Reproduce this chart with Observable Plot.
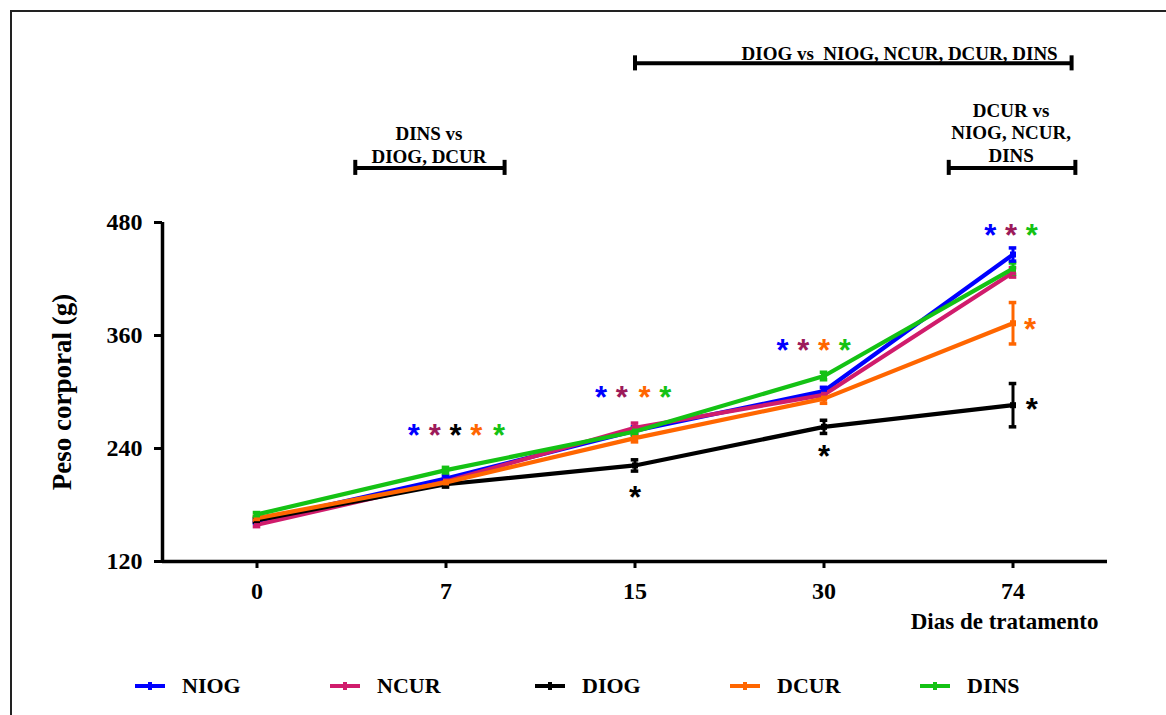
<!DOCTYPE html>
<html>
<head>
<meta charset="utf-8">
<script src="https://cdn.jsdelivr.net/npm/d3@7"></script>
<script src="https://cdn.jsdelivr.net/npm/@observablehq/plot@0.6"></script>
<style>
html, body { margin: 0; padding: 0; background: #fff; width: 1166px; height: 715px; overflow: hidden; }
#frame { position: absolute; left: 10px; top: 10px; width: 1200px; height: 800px; border-left: 2px solid #222; border-top: 2px solid #222; }
#chart { position: absolute; left: 0; top: 0; }
#legend { position: absolute; left: 0; top: 668px; width: 1166px; height: 36px;
  font-family: "Liberation Serif", "Times New Roman", serif; font-weight: bold; font-size: 22px; }
.item { position: absolute; top: 0; height: 36px; display: flex; align-items: center; white-space: nowrap; }
.swatch { position: relative; width: 30px; height: 4px; margin-right: 17px; }
.swatch span { position: absolute; left: 13px; top: -2px; width: 4px; height: 8px; }
</style>
</head>
<body>
<div id="frame"></div>
<div id="chart"></div>
<div id="legend"></div>
<script>
// ---- data ----
const days = ["0", "7", "15", "30", "74"];
const groups = ["NIOG", "NCUR", "DIOG", "DCUR", "DINS"];

const NIOG = [163, 208, 259, 301, 446];
const NCUR = [159, 205, 262, 297, 427];
const DIOG = [164, 202, 222, 263, 286];
const DCUR = [166, 204, 251, 293, 373];
const DINS = [170, 217, 258, 317, 431];

const NIOG_se = [2, 3, 4, 4, 7];
const NCUR_se = [2, 3, 5, 4, 5];
const DIOG_se = [2, 3, 6, 7, 23];
const DCUR_se = [2, 3, 4, 5, 22];
const DINS_se = [2, 3, 4, 4, 6];

const yTicks = [120, 240, 360, 480];

// significance asterisks (x in day-index units, y in g)
const starGroup = ["NIOG", "NCUR", "DIOG", "DCUR", "DINS",
                   "NIOG", "NCUR", "DCUR", "DINS",
                   "NIOG", "NCUR", "DCUR", "DINS",
                   "NIOG", "NCUR", "DINS",
                   "DIOG", "DIOG", "DIOG", "DCUR"];
const starX = [0.83, 0.94, 1.05, 1.16, 1.28,
               1.82, 1.93, 2.05, 2.16,
               2.78, 2.89, 3.00, 3.11,
               3.88, 3.99, 4.10,
               2.00, 3.00, 4.10, 4.09];
const starY = [262, 262, 262, 262, 262,
               302, 302, 302, 302,
               352, 352, 352, 352,
               474, 474, 474,
               196, 239, 289, 374];

// comparison brackets above the plot
const bracketX1 = [0.52, 2.00, 3.66];
const bracketX2 = [1.31, 4.31, 4.33];
const bracketY = [538, 649, 538];
const bracketText = ["DINS vs\nDIOG, DCUR", "DIOG vs\u00a0 NIOG, NCUR, DCUR, DINS", "DCUR vs\nNIOG, NCUR,\nDINS"];
const bracketTextX = [0.91, 3.40, 3.99];
const bracketTextY = [563, 660, 576];

// ---- styles ----
const colors = {NIOG: "#0000ff", NCUR: "#d01c6c", DIOG: "#000000", DCUR: "#ff6600", DINS: "#14c214"};
const starColors = {NIOG: "#0000ff", NCUR: "#9c1a5a", DIOG: "#000000", DCUR: "#ff6600", DINS: "#14c214"};
const serif = '"Liberation Serif", "Times New Roman", serif';

// ---- build tables ----
const series = {NIOG, NCUR, DIOG, DCUR, DINS};
const ses = {NIOG: NIOG_se, NCUR: NCUR_se, DIOG: DIOG_se, DCUR: DCUR_se, DINS: DINS_se};
const table = [];
for (const g of groups) days.forEach((d, i) => table.push({g, i, v: series[g][i], se: ses[g][i]}));
const stars = starGroup.map((g, k) => ({g, x: starX[k], y: starY[k]}));
const brackets = bracketX1.map((x1, k) => ({x1, x2: bracketX2[k], y: bracketY[k]}));
const bracketEnds = brackets.flatMap(b => [{x: b.x1, y: b.y}, {x: b.x2, y: b.y}]);
const bracketLabels = bracketText.map((t, k) => ({t, x: bracketTextX[k], y: bracketTextY[k]}));
const cap = 0.02;

const chart = Plot.plot({
  width: 1166,
  height: 650,
  marginLeft: 162,
  marginRight: 59,
  marginTop: 222,
  marginBottom: 89,
  style: {fontFamily: serif, fontWeight: "bold", fontSize: "24px", background: "transparent", overflow: "visible", color: "#000"},
  color: {type: "identity"},
  x: {type: "linear", domain: [-0.5, 4.5], ticks: days.map((d, i) => i), tickFormat: i => days[i],
      tickSize: 7, tickPadding: 13, label: null},
  y: {domain: [120, 480], ticks: yTicks, tickFormat: d => d, tickSize: 8, tickPadding: 12, label: null},
  marks: [
    Plot.ruleY([120], {stroke: "#000", strokeWidth: 3.5}),
    Plot.ruleX([-0.5], {stroke: "#000", strokeWidth: 3.5}),
    // error bars
    Plot.ruleX(table, {x: "i", y1: d => d.v - d.se, y2: d => d.v + d.se, stroke: d => colors[d.g], strokeWidth: 3}),
    Plot.ruleY(table, {y: d => d.v + d.se, x1: d => d.i - cap, x2: d => d.i + cap, stroke: d => colors[d.g], strokeWidth: 3.5}),
    Plot.ruleY(table, {y: d => d.v - d.se, x1: d => d.i - cap, x2: d => d.i + cap, stroke: d => colors[d.g], strokeWidth: 3.5}),
    // lines
    Plot.line(table, {x: "i", y: "v", z: "g", stroke: d => colors[d.g], strokeWidth: 4.2}),
    Plot.dot(table, {x: "i", y: "v", symbol: "square", r: 3.4, fill: d => colors[d.g], stroke: "none"}),
    // asterisks
    Plot.text(stars, {x: "x", y: "y", text: () => "*", fill: d => starColors[d.g], fontFamily: "Liberation Sans, Arial, sans-serif",
      fontWeight: "bold", fontSize: 31, dy: 8, clip: false}),
    // brackets
    Plot.ruleY(brackets, {y: "y", x1: "x1", x2: "x2", stroke: "#000", strokeWidth: 4, clip: false}),
    Plot.ruleX(bracketEnds, {x: "x", y1: d => d.y - 8, y2: d => d.y + 8, stroke: "#000", strokeWidth: 4, clip: false}),
    Plot.text(bracketLabels, {x: "x", y: "y", text: "t", fontFamily: serif, fontWeight: "bold", fontSize: 19,
      lineHeight: 1.2, fill: "#000", clip: false}),
    // axis titles
    Plot.text(["Peso corporal (g)"], {text: d => d, frameAnchor: "left", textAnchor: "middle", lineAnchor: "middle",
      rotate: -90, dx: -100, fontSize: 27, fontFamily: serif, fontWeight: "bold", fill: "#000"}),
    Plot.text(["Dias de tratamento"], {text: d => d, frameAnchor: "bottom-right", textAnchor: "end", dx: -9, dy: 67,
      fontSize: 23, fontFamily: serif, fontWeight: "bold", fill: "#000"})
  ]
});

chart.querySelectorAll('[aria-label*="axis"] path, [aria-label*="axis"] line').forEach(el => {
  el.setAttribute("stroke-width", "3");
  el.style.strokeWidth = "3px";
  el.setAttribute("stroke", "#000");
});
document.getElementById("chart").appendChild(chart);

// ---- legend ----
const legendLeft = [135, 330, 535, 730, 920];
const legend = document.getElementById("legend");
groups.forEach((g, k) => {
  const item = document.createElement("div");
  item.className = "item";
  item.style.left = legendLeft[k] + "px";
  const sw = document.createElement("div");
  sw.className = "swatch";
  sw.style.background = colors[g];
  const mk = document.createElement("span");
  mk.style.background = colors[g];
  sw.appendChild(mk);
  const lab = document.createElement("span");
  lab.textContent = g;
  item.appendChild(sw);
  item.appendChild(lab);
  legend.appendChild(item);
});
</script>
</body>
</html>
